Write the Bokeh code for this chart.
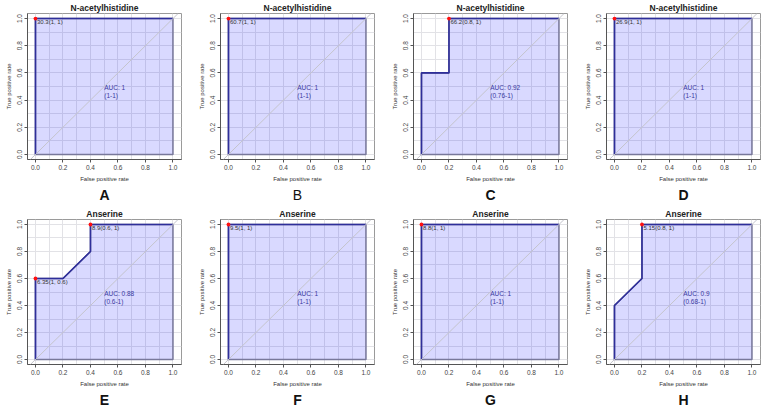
from bokeh.plotting import figure
from bokeh.layouts import column, row
from bokeh.models import Range1d, FixedTicker, PrintfTickFormatter, Slope, Title, ColumnDataSource
from bokeh.core.properties import value
from bokeh.embed import file_html
from bokeh.resources import INLINE

# ---------------- data ----------------
panel_letters = ["A", "B", "C", "D", "E", "F", "G", "H"]
panel_titles = ["N-acetylhistidine", "N-acetylhistidine", "N-acetylhistidine", "N-acetylhistidine",
                "Anserine", "Anserine", "Anserine", "Anserine"]
letter_bold = [True, False, True, True, True, True, True, True]

fpr_A = [0, 0, 1]; tpr_A = [0, 1, 1]
fpr_B = [0, 0, 1]; tpr_B = [0, 1, 1]
fpr_C = [0, 0, 0.2, 0.2, 1]; tpr_C = [0, 0.6, 0.6, 1, 1]
fpr_D = [0, 0, 1]; tpr_D = [0, 1, 1]
fpr_E = [0, 0, 0.2, 0.4, 0.4, 1]; tpr_E = [0, 0.6, 0.6, 0.8, 1, 1]
fpr_F = [0, 0, 1]; tpr_F = [0, 1, 1]
fpr_G = [0, 0, 1]; tpr_G = [0, 1, 1]
fpr_H = [0, 0, 0.2, 0.2, 1]; tpr_H = [0, 0.4, 0.6, 1, 1]

thr_fpr_A = [0];      thr_tpr_A = [1];      thr_text_A = ["30.3(1, 1)"]
thr_fpr_B = [0];      thr_tpr_B = [1];      thr_text_B = ["60.7(1, 1)"]
thr_fpr_C = [0.2];    thr_tpr_C = [1];      thr_text_C = ["66.2(0.8, 1)"]
thr_fpr_D = [0];      thr_tpr_D = [1];      thr_text_D = ["26.9(1, 1)"]
thr_fpr_E = [0, 0.4]; thr_tpr_E = [0.6, 1]; thr_text_E = ["6.35(1, 0.6)", "8.9(0.6, 1)"]
thr_fpr_F = [0];      thr_tpr_F = [1];      thr_text_F = ["9.5(1, 1)"]
thr_fpr_G = [0];      thr_tpr_G = [1];      thr_text_G = ["8.8(1, 1)"]
thr_fpr_H = [0.2];    thr_tpr_H = [1];      thr_text_H = ["5.15(0.8, 1)"]

auc_text = ["AUC: 1", "AUC: 1", "AUC: 0.92", "AUC: 1", "AUC: 0.88", "AUC: 1", "AUC: 1", "AUC: 0.9"]
auc_ci = ["(1-1)", "(1-1)", "(0.76-1)", "(1-1)", "(0.6-1)", "(1-1)", "(1-1)", "(0.68-1)"]

axis_ticks = [0, 0.2, 0.4, 0.6, 0.8, 1.0]
grid_ticks = [0, 0.1, 0.2, 0.3, 0.4, 0.5, 0.6, 0.7, 0.8, 0.9, 1.0]

curves = {
    "A": (fpr_A, tpr_A, thr_fpr_A, thr_tpr_A, thr_text_A),
    "B": (fpr_B, tpr_B, thr_fpr_B, thr_tpr_B, thr_text_B),
    "C": (fpr_C, tpr_C, thr_fpr_C, thr_tpr_C, thr_text_C),
    "D": (fpr_D, tpr_D, thr_fpr_D, thr_tpr_D, thr_text_D),
    "E": (fpr_E, tpr_E, thr_fpr_E, thr_tpr_E, thr_text_E),
    "F": (fpr_F, tpr_F, thr_fpr_F, thr_tpr_F, thr_text_F),
    "G": (fpr_G, tpr_G, thr_fpr_G, thr_tpr_G, thr_text_G),
    "H": (fpr_H, tpr_H, thr_fpr_H, thr_tpr_H, thr_text_H),
}

FONT = "Liberation Sans"
col_widths = [193, 193, 193, 192]
row_heights = [206, 202]
row_tops = [13, 12]


def make_panel(i):
    letter = panel_letters[i]
    fpr, tpr, tfx, tfy, ttext = curves[letter]
    r, c = divmod(i, 4)
    w, h = col_widths[c], row_heights[r]
    top = row_tops[r]
    p = figure(width=w, height=h, output_backend="svg", toolbar_location=None,
               x_range=Range1d(-0.058, 1.062), y_range=Range1d(-0.037, 1.037),
               min_border_left=27, min_border_right=w - 27 - 154,
               min_border_top=top, min_border_bottom=h - top - 146)
    p.title.text = panel_titles[i]
    p.title.align = "center"
    p.title.text_font = FONT
    p.title.text_font_size = "8.5px"
    p.title.text_font_style = "bold"
    p.title.text_color = "#222222"
    p.title.standoff = 1
    p.title.offset = 0

    p.outline_line_color = "#9a9a9a"
    p.outline_line_width = 1
    p.background_fill_color = "white"
    p.border_fill_color = "white"

    for ax in (p.xaxis[0], p.yaxis[0]):
        ax.ticker = FixedTicker(ticks=axis_ticks)
        ax.formatter = PrintfTickFormatter(format="%.1f")
        ax.minor_tick_line_color = None
        ax.major_tick_in = 0
        ax.major_tick_out = 3
        ax.major_tick_line_color = "#555555"
        ax.axis_line_color = "#555555"
        ax.major_label_text_font = FONT
        ax.major_label_text_font_size = "6.5px"
        ax.major_label_text_color = "#444444"
        ax.axis_label_text_font = FONT
        ax.axis_label_text_font_size = "6px"
        ax.axis_label_text_font_style = "normal"
        ax.axis_label_text_color = "#333333"
        ax.major_label_standoff = 2
        ax.axis_label_standoff = 3
    p.xaxis.axis_label = "False positive rate"
    p.yaxis.axis_label = "True positive rate"
    p.yaxis.major_label_orientation = "vertical"

    p.xgrid.ticker = FixedTicker(ticks=grid_ticks)
    p.ygrid.ticker = FixedTicker(ticks=grid_ticks)
    p.xgrid.grid_line_color = "#e2e2e6"
    p.ygrid.grid_line_color = "#e2e2e6"

    # AUC polygon
    p.patch(fpr + [1], tpr + [0], fill_color="#0000ff", fill_alpha=0.15,
            line_color="#78789a", line_width=1.5)
    # diagonal
    p.add_layout(Slope(gradient=1, y_intercept=0, line_color="#c4c4cc", line_width=1))
    # ROC curve
    p.line(fpr, tpr, line_color="#2e2e9a", line_width=1.6)

    # thresholds
    src = ColumnDataSource(dict(x=tfx, y=tfy, t=ttext))
    p.scatter("x", "y", source=src, size=3.8, color="#ff1010", line_color=None)
    p.text("x", "y", text="t", source=src, text_font=value(FONT), text_font_size="6px",
           text_color="#333333", text_align="left", text_baseline="top",
           x_offset=1.5, y_offset=0.5)

    # AUC labels
    p.text([0.5], [0.46], text=[auc_text[i]], text_font=value(FONT), text_font_size="6.5px",
           text_color="#3a3aa0", text_align="left", text_baseline="middle", y_offset=-4)
    p.text([0.5], [0.46], text=[auc_ci[i]], text_font=value(FONT), text_font_size="6.5px",
           text_color="#3a3aa0", text_align="left", text_baseline="middle", y_offset=4)

    p.add_layout(Title(text=letter, align="center", text_font=FONT, text_font_size="14px",
                       text_font_style="bold" if letter_bold[i] else "normal",
                       text_color="#111111", standoff=0, offset=0), "below")
    return p


panels = [make_panel(i) for i in range(8)]
layout = column(row(*panels[:4], spacing=0), row(*panels[4:], spacing=0), spacing=0)

open("out.html", "w").write(file_html(layout, INLINE))
